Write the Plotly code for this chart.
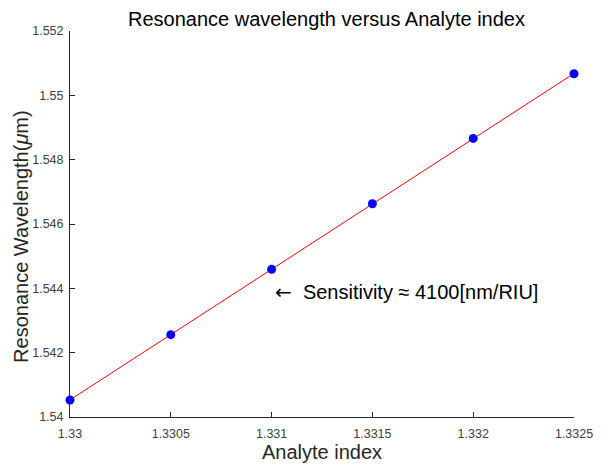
import plotly.graph_objects as go
import numpy as np

analyte_index = [1.33, 1.3305, 1.331, 1.3315, 1.332, 1.3325]
resonance_wl = [1.54053, 1.54256, 1.54459, 1.54663, 1.54866, 1.55067]

x_ticks = [1.33, 1.3305, 1.331, 1.3315, 1.332, 1.3325]
x_ticktext = ["1.33", "1.3305", "1.331", "1.3315", "1.332", "1.3325"]
y_ticks = [1.54, 1.542, 1.544, 1.546, 1.548, 1.55, 1.552]
y_ticktext = ["1.54", "1.542", "1.544", "1.546", "1.548", "1.55", "1.552"]

# linear fit
coef = np.polyfit(analyte_index, resonance_wl, 1)
fit_x = [analyte_index[0], analyte_index[-1]]
fit_y = [float(np.polyval(coef, v)) for v in fit_x]

W, H = 605, 465
L, R, T, B = 70, 22, 31, 48
font = "Liberation Sans, Arial, sans-serif"
axcol = "#262626"

fig = go.Figure()
fig.add_trace(go.Scatter(x=fit_x, y=fit_y, mode="lines",
                         line=dict(color="#FF0000", width=1), showlegend=False))
fig.add_trace(go.Scatter(x=analyte_index, y=resonance_wl, mode="markers",
                         marker=dict(color="#0000FF", size=9), showlegend=False,
                         cliponaxis=False))

fig.update_layout(
    width=W, height=H,
    margin=dict(l=L, r=R, t=T, b=B),
    paper_bgcolor="white", plot_bgcolor="white",
    font=dict(family=font, color=axcol),
    title=dict(text="Resonance wavelength versus Analyte index",
               x=(L + (W - L - R) / 2) / W, xanchor="center",
               y=1 - 19 / H, yanchor="middle",
               font=dict(size=20, color="#000000")),
    xaxis=dict(range=[1.33, 1.3325], tickvals=x_ticks, ticktext=x_ticktext,
               ticks="inside", ticklen=5, tickcolor=axcol, showline=True,
               linecolor=axcol, linewidth=1, showgrid=False, zeroline=False,
               tickfont=dict(size=12.5, color="#404040"), mirror=False,
               ticklabelstandoff=5),
    yaxis=dict(range=[1.54, 1.552], tickvals=y_ticks, ticktext=y_ticktext,
               ticks="inside", ticklen=5, tickcolor=axcol, showline=True,
               linecolor=axcol, linewidth=1, showgrid=False, zeroline=False,
               tickfont=dict(size=12.5, color="#404040"), mirror=False,
               ticklabelstandoff=3),
    annotations=[
        dict(text="Analyte index", xref="paper", yref="paper",
             x=0.5, y=-(452 - 417) / (H - T - B), xanchor="center", yanchor="middle",
             showarrow=False, font=dict(size=20, color=axcol)),
        dict(text="Resonance Wavelength(<i>μ</i>m)", xref="paper", yref="paper",
             x=(20 - L) / (W - L - R), y=1 - (236 - T) / (H - T - B),
             xanchor="center", yanchor="middle", textangle=-90,
             showarrow=False, font=dict(size=20, color=axcol)),
        dict(text="<span style=\"font-family:'DejaVu Sans'\">←</span>  Sensitivity ≈ 4100[nm/RIU]",
             xref="x", yref="y",
             x=1.331, y=1.5439, xanchor="left", yanchor="middle", xshift=1,
             showarrow=False, font=dict(size=20, color="#000000")),
    ],
)

fig.write_html("out.html")
